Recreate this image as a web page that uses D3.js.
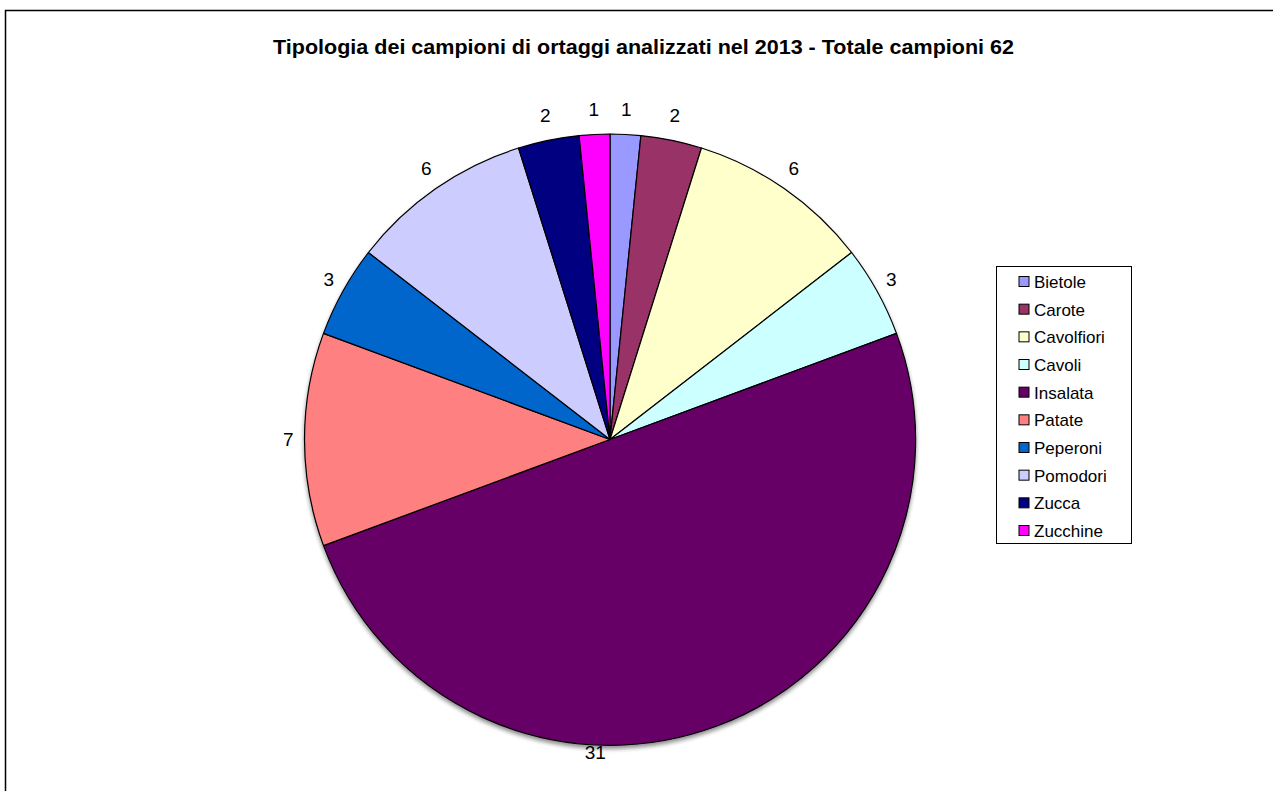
<!DOCTYPE html>
<html>
<head>
<meta charset="utf-8">
<script src="https://cdn.jsdelivr.net/npm/d3@7"></script>
<style>
  html, body { margin: 0; padding: 0; background: #fff; }
  svg { display: block; font-family: "Liberation Sans", Arial, sans-serif; }
</style>
</head>
<body>
<svg id="chart" width="1273" height="791"></svg>
<script>
// Vegetable sample types analysed in 2013
const categories = ["Bietole", "Carote", "Cavolfiori", "Cavoli", "Insalata",
                    "Patate", "Peperoni", "Pomodori", "Zucca", "Zucchine"];
const values = [1, 2, 6, 3, 31, 7, 3, 6, 2, 1];
const colors = ["#9999FF", "#993366", "#FFFFCC", "#CCFFFF", "#660066",
                "#FF8080", "#0066CC", "#CCCCFF", "#000080", "#FF00FF"];
const title = "Tipologia dei campioni di ortaggi analizzati nel 2013 - Totale campioni " + d3.sum(values);

const W = 1273, H = 791;
const cx = 610, cy = 439.5, R = 305.5;

const svg = d3.select("#chart");

// drop shadow under the pie
const defs = svg.append("defs");
const f = defs.append("filter").attr("id", "shadow")
  .attr("x", "-10%").attr("y", "-10%").attr("width", "120%").attr("height", "120%");
f.append("feGaussianBlur").attr("in", "SourceAlpha").attr("stdDeviation", 2);
f.append("feOffset").attr("dx", 0).attr("dy", 3).attr("result", "off");
f.append("feComponentTransfer").append("feFuncA").attr("type", "linear").attr("slope", 0.45);
const merge = f.append("feMerge");
merge.append("feMergeNode");
merge.append("feMergeNode").attr("in", "SourceGraphic");

// outer frame
svg.append("rect")
  .attr("x", 5.5).attr("y", 10.5)
  .attr("width", W + 20).attr("height", H + 20)
  .attr("fill", "none").attr("stroke", "#000").attr("stroke-width", 1.5);

// title
svg.append("text")
  .attr("x", 643.5).attr("y", 54)
  .attr("text-anchor", "middle")
  .attr("font-weight", "bold")
  .attr("font-size", 20)
  .attr("textLength", 741)
  .attr("lengthAdjust", "spacingAndGlyphs")
  .attr("fill", "#000")
  .text(title);

const color = d3.scaleOrdinal().domain(categories).range(colors);

const pie = d3.pie().sort(null).value(d => d.value);
const data = pie(categories.map((c, i) => ({ name: c, value: values[i] })));
const arc = d3.arc().innerRadius(0).outerRadius(R);

const g = svg.append("g").attr("transform", `translate(${cx},${cy})`);

g.append("g").attr("filter", "url(#shadow)")
  .selectAll("path")
  .data(data)
  .join("path")
  .attr("d", arc)
  .attr("fill", d => color(d.data.name))
  .attr("stroke", "#000")
  .attr("stroke-width", 1.2)
  .attr("stroke-linejoin", "round");

// value labels just outside the rim
const labelFont = 19;
const labelGap = 11;
const labelOverride = { "Insalata": { angle: 182.7 * Math.PI / 180, gap: -2, halfH: 9.5 } };
const charW = labelFont * 0.556, halfH = labelFont * 0.74;

g.append("g").selectAll("text")
  .data(data)
  .join("text")
  .attr("font-size", labelFont)
  .attr("fill", "#000")
  .attr("text-anchor", "middle")
  .attr("dy", "0.35em")
  .each(function (d) {
    const o = labelOverride[d.data.name];
    const a = o ? o.angle : (d.startAngle + d.endAngle) / 2;
    const gap = o ? o.gap : labelGap;
    const hh = o ? o.halfH : halfH;
    const s = Math.sin(a), c = -Math.cos(a);
    const txt = String(d.data.value);
    const hw = txt.length * charW / 2;
    const x = s * (R + gap) + s * hw;
    const y = c * (R + gap) + c * hh;
    d3.select(this).attr("x", x).attr("y", y).text(txt);
  });

// legend
const lg = svg.append("g");
const lx = 996.5, ly = 266.5, lw = 135, lh = 277;
lg.append("rect")
  .attr("x", lx).attr("y", ly).attr("width", lw).attr("height", lh)
  .attr("fill", "#fff").attr("stroke", "#000").attr("stroke-width", 1);

const rowY = d3.scalePoint().domain(categories).range([ly + 15.5, ly + lh - 12.5]);

const items = lg.selectAll("g.item")
  .data(categories)
  .join("g")
  .attr("class", "item")
  .attr("transform", d => `translate(${lx + 22},${rowY(d)})`);

items.append("rect")
  .attr("x", 0.5).attr("y", -5.5)
  .attr("width", 10).attr("height", 10)
  .attr("fill", d => color(d))
  .attr("stroke", "#000").attr("stroke-width", 1);

items.append("text")
  .attr("x", 15.5).attr("dy", "0.35em")
  .attr("font-size", 17)
  .attr("fill", "#000")
  .text(d => d);
</script>
</body>
</html>
